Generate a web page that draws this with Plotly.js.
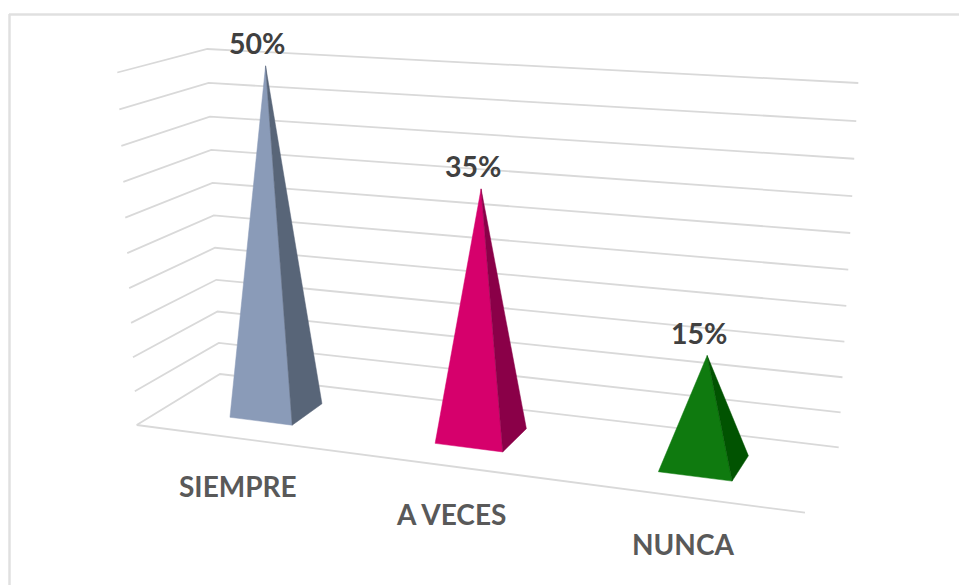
<!DOCTYPE html>
<html><head><meta charset="utf-8">
<script src="https://cdn.plot.ly/plotly-3.0.1.min.js"></script>
<style>html,body{margin:0;padding:0;background:#fff}#c{width:959px;height:585px}</style></head>
<body><div id="c"></div>
<script>
const categories = ["SIEMPRE", "A VECES", "NUNCA"];
const values = [50, 35, 15];
const valueLabels = ["50%", "35%", "15%"];
const axisTicks = [0, 5, 10, 15, 20, 25, 30, 35, 40, 45, 50];
const axisMax = 50;
const frontColors = ["#8A9BB8", "#D6006C", "#0F7A0F"];
const sideColors = ["#586578", "#8A0048", "#015301"];
const gridColor = "#D9D9D9";
const barHalfWidth = 0.052;
const depthFront = 0.30, depthBack = 0.70;
const verticalPerspective = 0.05;

// View of the 3D plot box: floor [front-left, front-right, back-right, back-left]
const floorQuad = [[136.7,425],[805,512.7],[838.7,447.3],[220,374]];
// Top of the walls above front-left, back-left, back-right
const floorRef = [floorQuad[0],floorQuad[3],floorQuad[2]];
const roofRef  = [[117.3,72.5],[207.3,49],[858.3,83]];
function makeHomography(q){
  const [p0,p1,p2,p3]=q;
  const dx1=p1[0]-p2[0],dx2=p3[0]-p2[0],sx=p0[0]-p1[0]+p2[0]-p3[0];
  const dy1=p1[1]-p2[1],dy2=p3[1]-p2[1],sy=p0[1]-p1[1]+p2[1]-p3[1];
  const den=dx1*dy2-dx2*dy1;
  const g=(sx*dy2-dx2*sy)/den,h=(dx1*sy-sx*dy1)/den;
  const a=p1[0]-p0[0]+g*p1[0],b=p3[0]-p0[0]+h*p3[0],c=p0[0];
  const d=p1[1]-p0[1]+g*p1[1],e=p3[1]-p0[1]+h*p3[1],f=p0[1];
  return (u,v)=>{const w=g*u+h*v+1;return [(a*u+b*v+c)/w,(d*u+e*v+f)/w];};
}
// Affine function of floor position giving the height vector of the walls there
function fitAffine(vals){
  const [A,B,C]=floorRef;
  const det=(B[0]-A[0])*(C[1]-A[1])-(C[0]-A[0])*(B[1]-A[1]);
  const p=((vals[1]-vals[0])*(C[1]-A[1])-(vals[2]-vals[0])*(B[1]-A[1]))/det;
  const q=((B[0]-A[0])*(vals[2]-vals[0])-(C[0]-A[0])*(vals[1]-vals[0]))/det;
  const r=vals[0]-p*A[0]-q*A[1];
  return (x,y)=>p*x+q*y+r;
}
const floorH=makeHomography(floorQuad);
const riseX=fitAffine(roofRef.map((p,i)=>p[0]-floorRef[i][0]));
const riseY=fitAffine(roofRef.map((p,i)=>p[1]-floorRef[i][1]));
function project(u,v,val){
  const s=val/axisMax,t=s/(1+verticalPerspective*(1-s)),F=floorH(u,v);
  return [F[0]+riseX(F[0],F[1])*t,F[1]+riseY(F[0],F[1])*t];
}
function polyline(pts){return {x:pts.map(p=>p[0]),y:pts.map(p=>p[1])};}

const traces=[];
axisTicks.forEach(v=>{
  const pts=polyline([project(0,0,v),project(0,1,v),project(1,1,v)]);
  traces.push({type:"scatter",mode:"lines",x:pts.x,y:pts.y,hoverinfo:"skip",showlegend:false,
    line:{color:gridColor,width:1.8}});
});
{
  const pts=polyline([project(0,0,0),project(1,0,0)]);
  traces.push({type:"scatter",mode:"lines",x:pts.x,y:pts.y,hoverinfo:"skip",showlegend:false,
    line:{color:gridColor,width:1.8}});
}
const annotations=[];
categories.forEach((cat,i)=>{
  const uc=(i+0.5)/categories.length;
  const FL=project(uc-barHalfWidth,depthFront,0),FR=project(uc+barHalfWidth,depthFront,0),
        BR=project(uc+barHalfWidth,depthBack,0),
        apex=project(uc,(depthFront+depthBack)/2,values[i]);
  const front=polyline([FL,FR,apex,FL]),side=polyline([FR,BR,apex,FR]);
  traces.push({type:"scatter",mode:"lines",x:front.x,y:front.y,fill:"toself",fillcolor:frontColors[i],
    line:{color:frontColors[i],width:0.5},name:cat,showlegend:false,hoverinfo:"skip"});
  traces.push({type:"scatter",mode:"lines",x:side.x,y:side.y,fill:"toself",fillcolor:sideColors[i],
    line:{color:sideColors[i],width:0.5},name:cat,showlegend:false,hoverinfo:"skip"});
  annotations.push({xref:"x",yref:"y",x:apex[0],y:apex[1],xshift:-8.5,yshift:23,showarrow:false,text:valueLabels[i],
    font:{family:"Lato",size:28.5,color:"#404040",weight:700}});
  const base=project(uc,0,0);
  annotations.push({xref:"x",yref:"y",x:base[0],y:base[1],xshift:2,yshift:-48,showarrow:false,text:cat,
    font:{family:"Lato",size:28,color:"#595959",weight:700}});
});
const layout={
  width:959,height:585,margin:{l:0,r:0,t:0,b:0},paper_bgcolor:"#fff",plot_bgcolor:"#fff",showlegend:false,
  xaxis:{range:[0,959],visible:false,fixedrange:true},
  yaxis:{range:[585,0],visible:false,fixedrange:true},
  annotations,
  shapes:[
    {type:"line",xref:"x",yref:"y",x0:9,y0:14.5,x1:959,y1:14.5,line:{color:"#E0E0E0",width:2.5}},
    {type:"line",xref:"x",yref:"y",x0:9.5,y0:14,x1:9.5,y1:585,line:{color:"#E0E0E0",width:2.5}}
  ]
};
Plotly.newPlot("c",traces,layout,{displayModeBar:false,staticPlot:true});
</script></body></html>
